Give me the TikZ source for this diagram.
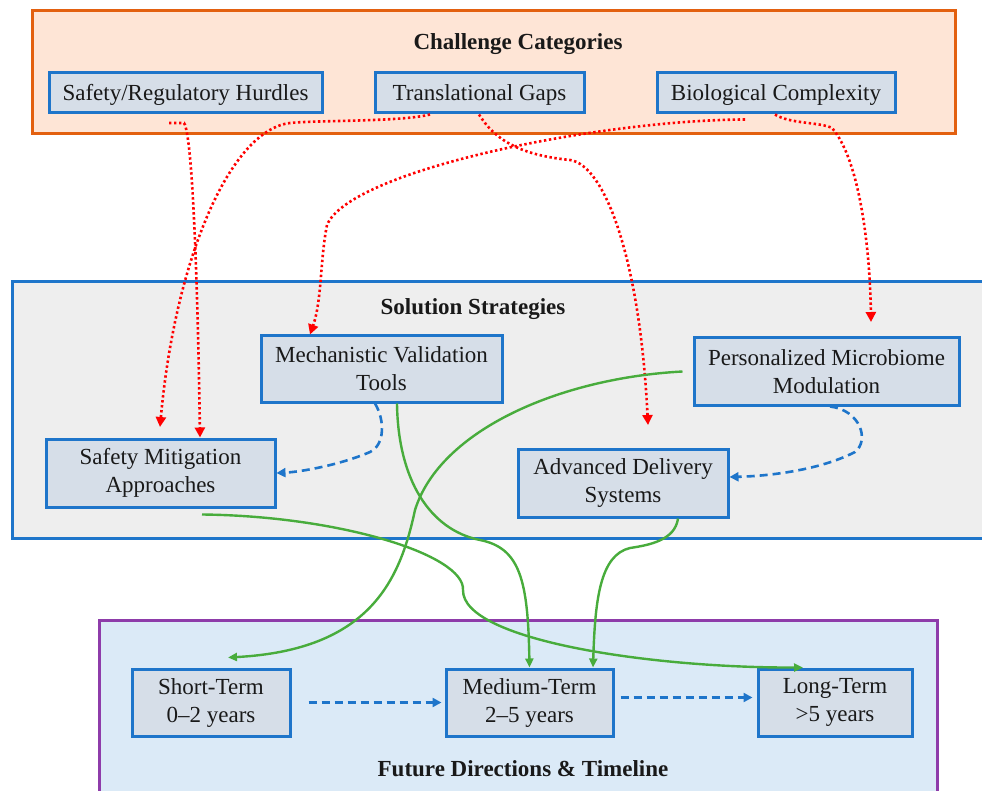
\documentclass[tikz,border=0pt]{standalone}
\usepackage{fontspec}
\setmainfont{Liberation Serif}
\usetikzlibrary{arrows.meta}
\definecolor{chalfill}{RGB}{254,229,214}
\definecolor{challine}{RGB}{227,96,15}
\definecolor{solfill}{RGB}{238,238,238}
\definecolor{futfill}{RGB}{219,234,247}
\definecolor{futline}{RGB}{142,60,170}
\definecolor{boxline}{RGB}{30,117,202}
\definecolor{boxfill}{RGB}{214,222,232}
\definecolor{linkgreen}{RGB}{72,172,60}
\begin{document}
\begin{tikzpicture}[x=1pt,y=-1pt,
  every node/.style={font=\fontsize{23}{28}\selectfont,text=black!90},
  box/.style={draw=boxline,fill=boxfill,line width=3pt,align=center,inner sep=2pt},
  onebox/.style={box,text height=20pt,text depth=4pt},
  head/.style={font=\fontsize{23}{28}\selectfont\bfseries},
  redlink/.style={red,line width=2.6pt,dash pattern=on 2.4pt off 2.6pt,-{Triangle[length=10pt,width=10pt]}},
  bluelink/.style={boxline,line width=2.6pt,dash pattern=on 8pt off 5pt,-{Triangle[length=9pt,width=9pt]}},
  greenlink/.style={linkgreen,line width=2.4pt,-{Triangle[length=9pt,width=8pt]}}]
\useasboundingbox (0,0) rectangle (982,791);

\draw[challine,fill=chalfill,line width=3pt] (32,11) rectangle (955,134);
\draw[boxline,fill=solfill,line width=3pt] (12,282) rectangle (1000,538);
\draw[futline,fill=futfill,line width=3pt] (99,620) rectangle (937,800);

\draw (518,44) node[head] (t1) {Challenge Categories};
\draw (473,309) node[head] (t2) {Solution Strategies};
\draw (523,769) node[head] (t3) {Future Directions \& Timeline};

\draw (185.5,93) node[onebox,minimum width=273pt,minimum height=40pt] (srh) {Safety/Regulatory Hurdles};
\draw (479.5,93) node[onebox,minimum width=209pt,minimum height=40pt] (tg) {Translational Gaps};
\draw (776,93) node[onebox,minimum width=238pt,minimum height=40pt] (bc) {Biological Complexity};

\draw (381.5,369) node[box,minimum width=241pt,minimum height=66pt] (mvt) {Mechanistic Validation\\Tools};
\draw (826.5,371.5) node[box,minimum width=265pt,minimum height=67pt] (pmm) {Personalized Microbiome\\Modulation};
\draw (160.5,473) node[box,minimum width=229pt,minimum height=68pt] (sma) {Safety Mitigation\\Approaches};
\draw (623,483) node[box,minimum width=210pt,minimum height=68pt] (ads) {Advanced Delivery\\Systems};

\foreach \n/\x/\w/\t in {st/211/158/{Short-Term\\0--2 years},mt/529.5/167/{Medium-Term\\2--5 years},lt/835/154/{Long-Term\\>5 years}}{
\draw (\x,702.5) node[box,minimum width=\w pt,minimum height=67pt] (\n) {\t};}

\coordinate (c1) at (169,123);
\coordinate (c2) at (160,427);
\coordinate (c3) at (648,425);
\coordinate (c4) at (871,322);

\draw[redlink] (c1) -- (184,123) .. controls (193,135) and (198,300) .. ([xshift=39.5pt]sma.north);
\draw[redlink] ([xshift=-49.5pt]tg.south) .. controls (400,122) and (320,120) .. (290,123) .. controls (230,130) and (175,260) .. (c2);
\draw[redlink] ([xshift=-31pt,yshift=-5pt]bc.south) .. controls (600,120) and (350,170) .. (327,225) .. controls (320,260) and (322,300) .. ([xshift=-71.5pt]mvt.north);
\draw[redlink] ([xshift=-0.5pt]tg.south) .. controls (495,140) and (520,155) .. (570,160) .. controls (605,165) and (640,260) .. (c3);
\draw[redlink] ([xshift=-1pt]bc.south) .. controls (790,124) and (820,122) .. (832,128) .. controls (860,160) and (870,250) .. (c4);

\draw[bluelink] ([xshift=-6.5pt]mvt.south) .. controls (385,420) and (385,445) .. (370,452) .. controls (340,465) and (300,472) .. (sma.east);
\draw[bluelink] ([xshift=3.5pt]pmm.south) .. controls (860,410) and (870,440) .. (855,452) .. controls (820,470) and (770,476) .. ([yshift=6pt]ads.east);
\draw[bluelink,shorten <=17pt,shorten >=3pt] (st.east) -- (mt.west);
\draw[bluelink,shorten <=6pt,shorten >=4pt] ([yshift=5pt]mt.east) -- ([yshift=5pt]lt.west);

\draw[greenlink] ([xshift=-10pt]pmm.west) .. controls (560,378) and (440,430) .. (415,510) .. controls (400,580) and (370,650) .. ([xshift=17pt,yshift=10pt]st.north);
\draw[greenlink] ([xshift=15.5pt]mvt.south) .. controls (398,480) and (430,530) .. (480,540) .. controls (520,548) and (528,580) .. (mt.north);
\draw[greenlink] ([xshift=55pt]ads.south) .. controls (675,540) and (650,545) .. (630,548) .. controls (600,555) and (595,600) .. ([xshift=63.5pt]mt.north);
\draw[greenlink] ([xshift=41.5pt,yshift=-6pt]sma.south) .. controls (340,516) and (465,555) .. (463,590) .. controls (462,640) and (650,668) .. ([xshift=-32pt]lt.north);

\end{tikzpicture}
\end{document}
